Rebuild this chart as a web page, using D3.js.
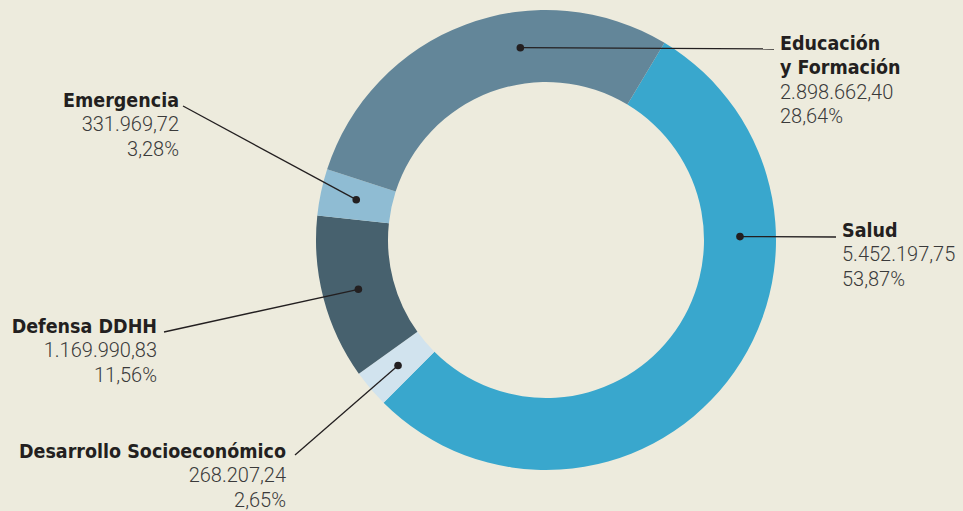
<!DOCTYPE html>
<html>
<head>
<meta charset="utf-8">
<script src="https://cdn.jsdelivr.net/npm/d3@7"></script>
<style>
  html, body { margin: 0; padding: 0; background: #edebdd; }
  #chart { width: 963px; height: 511px; }
  .name { font-family: "DejaVu Sans Condensed", "DejaVu Sans", sans-serif; font-weight: bold; font-size: 19.5px; fill: #231f20; }
  .num { font-family: Roboto, sans-serif; font-weight: 300; font-size: 20px; fill: #3a3a3a; }
</style>
</head>
<body>
<div id="chart"></div>
<script>
///////////////////////////// DATA /////////////////////////////

categories = ["Salud", "Desarrollo Socioeconómico", "Defensa DDHH", "Emergencia", "Educación y Formación"];
values = [5452197.75, 268207.24, 1169990.83, 331969.72, 2898662.40];
colors = ["#39a7cd", "#d1e3ee", "#47616e", "#8fbcd3", "#638699"];

// label name lines (Educación breaks over two lines)
nameLines = [["Salud"], ["Desarrollo Socioeconómico"], ["Defensa DDHH"], ["Emergencia"], ["Educación", "y Formación"]];

///////////////////////////// LAYOUT /////////////////////////////

width = 963;
height = 511;
cx = 546;
cy = 240;
outerR = 230;
innerR = 158;
startDeg = 31;
lineH = 24.3;

// where each label sits; dotDeg = null means slice centroid
labelLayout = [
    { dotDeg: 89, x: 842, y: 237, anchor: "start", lx: 836, ly: 237 },
    { dotDeg: null, x: 286, y: 458, anchor: "end", lx: 295, ly: 455 },
    { dotDeg: null, x: 157, y: 333, anchor: "end", lx: 164, ly: 332 },
    { dotDeg: null, x: 179, y: 107, anchor: "end", lx: 183, ly: 106 },
    { dotDeg: -7.6, x: 780, y: 50, anchor: "start", lx: 774, ly: 49 }
];

locale = d3.formatLocale({ decimal: ",", thousands: ".", grouping: [3], currency: ["", ""] });
fmtNum = locale.format(",.2f");
fmtPct = locale.format(".2f");

total = d3.sum(values);

svg = d3.select("#chart").append("svg")
    .attr("width", width)
    .attr("height", height);

svg.append("rect")
    .attr("width", width)
    .attr("height", height)
    .attr("fill", "#edebdd");

g = svg.append("g")
    .attr("transform", `translate(${cx}, ${cy})`);

pie = d3.pie()
    .sort(null)
    .startAngle(startDeg * Math.PI / 180)
    .endAngle(startDeg * Math.PI / 180 + 2 * Math.PI);

arc = d3.arc()
    .innerRadius(innerR)
    .outerRadius(outerR);

arcs = pie(values);

g.selectAll("path.slice")
    .data(arcs).enter()
    .append("path")
    .attr("class", "slice")
    .attr("d", arc)
    .attr("fill", (d, i) => colors[i]);

///////////////////////////// LABELS /////////////////////////////

midR = (innerR + outerR) / 2;

function dotPos(d, i) {
    var lay = labelLayout[i];
    if (lay.dotDeg == null) {
        var c = arc.centroid(d);
        return [cx + c[0], cy + c[1]];
    }
    var a = lay.dotDeg * Math.PI / 180;
    return [cx + midR * Math.sin(a), cy - midR * Math.cos(a)];
}

labels = svg.append("g").attr("class", "labels");

arcs.forEach(function(d, i) {
    var lay = labelLayout[i];
    var p = dotPos(d, i);

    labels.append("line")
        .attr("x1", p[0])
        .attr("y1", p[1])
        .attr("x2", lay.lx)
        .attr("y2", lay.ly)
        .attr("stroke", "#231f20")
        .attr("stroke-width", 1.3);

    labels.append("circle")
        .attr("cx", p[0])
        .attr("cy", p[1])
        .attr("r", 3.8)
        .attr("fill", "#231f20");

    var t = labels.append("text")
        .attr("text-anchor", lay.anchor);

    var rows = nameLines[i].map(s => ({ text: s, cls: "name" }))
        .concat([
            { text: fmtNum(values[i]), cls: "num" },
            { text: fmtPct(values[i] / total * 100) + "%", cls: "num" }
        ]);

    rows.forEach(function(r, k) {
        t.append("tspan")
            .attr("class", r.cls)
            .attr("x", lay.x)
            .attr("y", lay.y + k * lineH)
            .text(r.text);
    });
});
</script>
</body>
</html>
